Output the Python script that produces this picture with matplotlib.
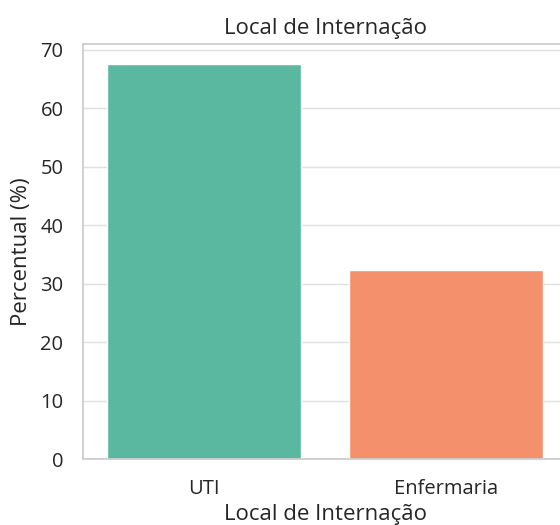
import matplotlib
matplotlib.use('Agg')
import matplotlib.pyplot as plt
import seaborn as sns
import pandas as pd

# dados
locais = ['UTI', 'Enfermaria']
percentual = [67.6, 32.4]
cores = ['#5ab7a0', '#f4906b']

sns.set_theme(style='whitegrid')
plt.rcParams['font.family'] = ['Open Sans', 'DejaVu Sans']
plt.rcParams['text.color'] = '#262626'

df = pd.DataFrame({'Local de Internação': locais, 'Percentual (%)': percentual})

fig = plt.figure(figsize=(5.6, 5.25), dpi=100)
ax = fig.add_axes([0.148, 0.125, 0.865, 0.791])
sns.barplot(data=df, x='Local de Internação', y='Percentual (%)', hue='Local de Internação',
            palette=cores, saturation=1, legend=False, ax=ax)
ax.set_title('Local de Internação', fontsize=16, pad=7)
ax.set_xlabel('Local de Internação', fontsize=16, labelpad=4)
ax.set_ylabel('Percentual (%)', fontsize=16, labelpad=6)
ax.tick_params(labelsize=14.5)
ax.tick_params(axis='y', pad=8)
ax.tick_params(axis='x', pad=8)
ax.xaxis.grid(False)
ax.yaxis.grid(True, color='#e0e0e0')

fig.savefig('out.png', dpi=100)
